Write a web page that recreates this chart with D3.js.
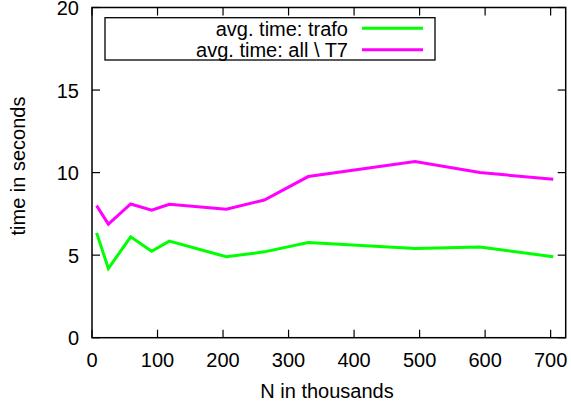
<!DOCTYPE html>
<html><head><meta charset="utf-8">
<script src="https://cdn.jsdelivr.net/npm/d3@7"></script>
<style>body{margin:0;background:#fff}svg{display:block}text{font-family:"Liberation Sans",Arial,sans-serif;fill:#000}</style>
</head><body>
<script>
const nValues = [7, 25, 59, 91, 118, 205, 263, 330, 493, 592, 704];
const trafo   = [6.35, 4.19, 6.11, 5.24, 5.85, 4.9, 5.2, 5.77, 5.41, 5.5, 4.9];
const allT7   = [8.0, 6.88, 8.1, 7.72, 8.08, 7.78, 8.34, 9.76, 10.67, 10.0, 9.6];
const xTicks = [0, 100, 200, 300, 400, 500, 600, 700];
const yTicks = [0, 5, 10, 15, 20];
const seriesNames = ["avg. time: trafo", "avg. time: all \\ T7"];
const seriesColors = ["#00ff00", "#ff00ff"];

const W = 571, H = 408;
const L = 92, R = 565.7, T = 7.5, B = 337.7;
const fs = 20;
const svg = d3.select("body").append("svg").attr("width", W).attr("height", H);
const x = d3.scaleLinear().domain([0, 723]).range([L, R]);
const y = d3.scaleLinear().domain([0, 20]).range([B, T]);

const tl = 8;
const g = svg.append("g");
xTicks.forEach(v => {
  g.append("line").attr("x1", x(v)).attr("x2", x(v)).attr("y1", B).attr("y2", B - tl).attr("stroke", "#000").attr("stroke-width", 1.2);
  g.append("line").attr("x1", x(v)).attr("x2", x(v)).attr("y1", T).attr("y2", T + tl).attr("stroke", "#000").attr("stroke-width", 1.2);
  g.append("text").attr("x", x(v)).attr("y", 366.7).attr("text-anchor", "middle").attr("font-size", fs).text(v);
});
yTicks.forEach(v => {
  g.append("line").attr("x1", L).attr("x2", L + tl).attr("y1", y(v)).attr("y2", y(v)).attr("stroke", "#000").attr("stroke-width", 1.2);
  g.append("line").attr("x1", R).attr("x2", R - tl).attr("y1", y(v)).attr("y2", y(v)).attr("stroke", "#000").attr("stroke-width", 1.2);
  g.append("text").attr("x", 79).attr("y", y(v) + 7.5).attr("text-anchor", "end").attr("font-size", fs).text(v);
});

const line = d3.line().x((d, i) => x(nValues[i])).y(d => y(d));
[trafo, allT7].forEach((s, k) => {
  svg.append("path").datum(s).attr("d", line).attr("fill", "none")
    .attr("stroke", seriesColors[k]).attr("stroke-width", 3).attr("stroke-linejoin", "miter");
});

svg.append("rect").attr("x", L).attr("y", T).attr("width", R - L).attr("height", B - T)
  .attr("fill", "none").attr("stroke", "#000").attr("stroke-width", 1.5);

const lg = svg.append("g");
lg.append("rect").attr("x", 105).attr("y", 17.7).attr("width", 330).attr("height", 42.3)
  .attr("fill", "#fff").attr("stroke", "#000").attr("stroke-width", 1.3);
const ly = [28.3, 49.8];
seriesNames.forEach((n, k) => {
  lg.append("text").attr("x", 348).attr("y", ly[k] + 7.3).attr("text-anchor", "end").attr("font-size", fs).text(n);
  lg.append("line").attr("x1", 362).attr("x2", 423).attr("y1", ly[k]).attr("y2", ly[k])
    .attr("stroke", seriesColors[k]).attr("stroke-width", 3);
});

svg.append("text").attr("x", 327).attr("y", 398.3).attr("text-anchor", "middle").attr("font-size", fs).text("N in thousands");
svg.append("text").attr("transform", "translate(25,166) rotate(-90)").attr("text-anchor", "middle").attr("font-size", fs).text("time in seconds");
</script>
</body></html>
